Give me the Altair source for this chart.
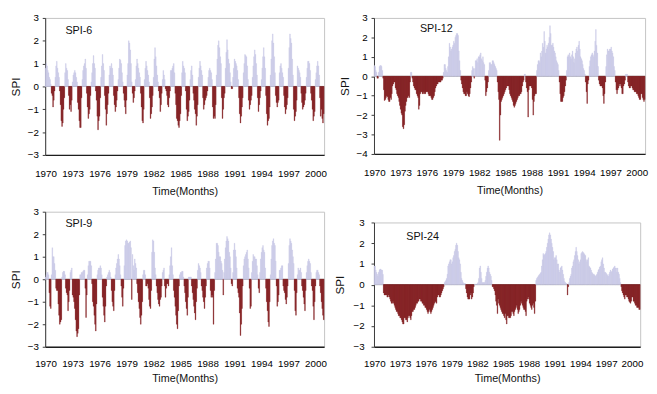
import altair as alt
import pandas as pd

FONT = "Liberation Sans"
POS_COLOR = "#c8c8e6"
NEG_COLOR = "#7b1113"

# tick positions (month index, centred in the month) and their year labels
TICK_POS = [0.5 + 36 * k for k in range(11)]   # 1970, 1973, ..., 2000

# Monthly SPI values, Jan 1970 .. Dec 2000 (12 per row)
SPI6 = [
    0.8, 1.0, 0.9, 0.7, 0.6, 0.4, 0.3, 0.1, -0.3, -0.4, -0.9, -0.6,
    -0.2, 0.4, 0.9, 1.1, 0.8, 0.6, 0.4, -0.2, -0.8, -1.5, -1.75, -1.6,
    -1.0, -0.5, 0.6, 1.0, 0.8, 0.7, 0.3, -0.4, -1.0, -0.8, -1.1, -0.6,
    0.2, 0.5, 0.6, 0.7, 0.6, 0.4, 0.2, -0.7, -1.0, -1.5, -1.8, -1.8,
    -0.5, 0.3, 0.7, 0.9, 1.0, 1.2, 0.8, -0.3, -0.9, -1.4, -1.2, -1.0,
    -0.4, 0.2, 0.6, 1.0, 1.35, 1.0, 0.8, -0.2, -0.6, -1.3, -1.9, -1.5,
    -1.3, -0.5, 0.4, 0.9, 1.4, 1.0, 0.7, -0.4, -1.0, -1.7, -1.2, -0.8,
    -0.3, 0.5, 0.9, 0.8, 1.0, 0.8, 0.5, -0.4, -0.8, -1.1, -0.9, -0.6,
    -0.2, 0.3, 0.8, 1.2, 1.15, 1.0, 0.6, 0.2, -0.3, -0.6, -0.9, -1.2,
    -0.6, 0.5, 1.0, 2.0, 1.9, 1.6, 1.0, 0.2, -0.3, -0.7, -0.5, -0.2,
    0.3, 0.9, 1.2, 1.0, 0.8, 0.6, 0.4, -0.3, -0.9, -1.5, -1.6, -1.0,
    0.3, 0.8, 1.1, 0.9, 0.7, 0.5, 0.2, -0.5, -1.4, -1.2, -0.9, -0.4,
    0.4, 1.2, 1.7, 1.3, 0.9, 0.5, 0.2, -0.2, -0.5, -1.1, -0.8, -0.3,
    0.3, 0.7, 0.5, 0.3, -0.1, -0.2, -0.4, -0.8, -0.9, -0.5, -0.2, 0.7,
    0.7, 0.8, 0.9, 1.0, 0.6, -0.3, -0.8, -1.4, -1.5, -1.7, -1.8, -1.5,
    -1.2, -0.4, 0.6, 1.1, 0.9, 0.8, 0.6, -0.2, -1.0, -1.5, -1.3, -1.1,
    -0.6, 0.3, 0.7, 0.9, 0.5, -0.3, -0.6, -1.0, -1.2, -1.7, -1.3, -0.8,
    0.4, 0.8, 1.1, 0.9, 0.7, 0.5, -0.5, -1.0, -0.8, -0.6, -0.5, -0.4,
    -0.2, 0.4, 0.7, 0.8, 0.7, 0.6, 0.3, -0.9, -1.4, -1.3, -1.4, -0.8,
    0.5, 1.2, 1.8, 2.0, 1.7, 1.3, 1.0, -0.5, -1.4, -1.0, -0.5, -0.3,
    0.8, 1.5, 2.05, 1.6, 1.2, 1.0, 0.6, 0.2, -0.1, -0.1, 0.4, 0.8,
    1.2, 1.1, 1.0, 0.9, 0.7, 0.3, -0.5, -1.2, -1.6, -1.3, -0.9, -0.5,
    0.6, 1.0, 1.4, 1.35, 1.3, 0.9, 0.3, -0.6, -1.0, -0.8, -0.6, -0.4,
    0.4, 0.9, 1.3, 1.6, 1.4, 1.0, 0.5, -0.5, -1.1, -0.8, -0.5, -0.2,
    0.3, 0.8, 1.3, 1.7, 1.3, 0.8, -0.4, -1.2, -1.7, -1.5, -1.4, -0.9,
    0.5, 1.2, 2.0, 2.3, 1.9, 1.3, 0.6, -0.4, -0.7, -0.9, -0.7, -0.6,
    0.6, 0.9, 1.0, 0.8, 0.6, 0.4, -0.4, -0.9, -1.2, -1.0, -0.8, -0.5,
    0.8, 1.7, 2.3, 2.1, 1.9, 1.2, 0.5, -1.0, -1.5, -1.3, -1.1, -0.6,
    0.9, 0.8, 0.7, 0.6, 0.4, -0.3, -0.7, -1.0, -0.9, -0.8, -0.6, -0.3,
    0.4, 0.8, 1.1, 1.1, 1.0, 0.7, -0.3, -0.6, -1.0, -1.5, -1.3, -1.1,
    0.3, 0.6, 0.9, 1.1, 0.9, 0.5, -0.5, -1.3, -1.0, -1.4, -1.6, -1.2,
]

SPI12 = [
    0.55, 0.5, 0.3, 0.2, -0.1, -0.1, 0.2, 0.5, 0.55, 0.55, 0.5, 0.3,
    -0.1, -0.7, -1.25, -1.2, -1.1, -1.0, -1.05, -1.2, -1.3, -1.3, -1.1, -1.2,
    -0.9, -0.5, -0.4, -0.3, -0.3, -0.6, -0.7, -0.9, -1.0, -1.1, -1.3, -1.5,
    -1.7, -1.9, -2.0, -2.6, -2.7, -2.5, -1.8, -1.5, -1.3, -1.1, -1.1, -1.0,
    -1.1, -0.3, 0.2, 0.2, -0.1, -0.3, -0.5, -0.6, -0.7, -0.7, -0.9, -1.0,
    -1.1, -1.7, -1.5, -0.9, -0.8, -0.8, -0.9, -0.9, -0.8, -0.9, -0.9, -0.8,
    -0.8, -0.8, -0.9, -1.0, -1.0, -1.0, -1.1, -1.2, -1.2, -1.1, -1.0, -0.8,
    -0.6, -0.5, -0.4, -0.4, -0.3, -0.3, -0.3, -0.3, -0.2, -0.2, -0.1, 0.2,
    0.6, 0.6, 0.4, 0.3, 0.2, 0.5, 1.0, 1.7, 1.5, 1.3, 1.4, 1.5,
    1.6, 1.8, 1.7, 2.0, 2.1, 2.2, 2.2, 2.1, 1.3, 0.8, 0.3, -0.2,
    -0.4, -0.6, -0.8, -0.9, -0.9, -1.0, -1.0, -0.8, -0.9, -1.0, -1.05, -0.9,
    -0.6, -0.3, 0.3, 0.5, 0.4, -0.1, 0.4, 0.8, 0.8, 0.9, 0.7, 1.0,
    1.0, 1.1, 1.2, 0.9, 0.8, 1.0, 0.7, 0.6, -0.2, -1.0, -0.8, -0.6,
    -0.3, 0.3, 0.7, 0.7, 0.6, 0.6, 0.8, 0.8, 0.7, 0.6, 0.5, 0.4,
    0.3, -0.3, -0.8, -1.2, -3.3, -2.0, -1.3, -1.2, -1.1, -1.0, -0.9, -0.8,
    -0.7, -0.6, -0.5, -0.5, -0.5, -0.7, -0.9, -1.0, -1.1, -1.2, -1.3, -1.5,
    -1.6, -1.5, -1.4, -1.3, -1.2, -1.1, -1.0, -1.0, -0.9, -0.9, -0.8, -0.5,
    -0.3, -0.2, 0.1, 0.1, -0.3, -0.6, -0.8, -2.1, -0.7, -0.5, -0.5, -0.5,
    -0.6, -1.2, -2.0, -1.3, -1.0, -0.9, -0.9, 0.3, 0.6, 0.8, 0.8, 0.7,
    1.2, 1.0, 1.3, 1.7, 1.5, 2.3, 1.8, 1.2, 1.4, 1.6, 1.5, 1.7,
    2.0, 2.6, 2.2, 1.6, 1.6, 1.7, 1.5, 1.3, 1.2, 1.0, 0.8, 0.7,
    0.6, 0.3, -0.3, -0.9, -1.3, -1.3, -1.3, -1.1, -1.0, -0.8, -0.5, -0.2,
    0.3, 1.0, 1.1, 1.0, 1.2, 1.0, 0.9, 1.1, 1.3, 1.0, 0.7, 0.9,
    1.2, 1.4, 1.5, 1.3, 1.6, 1.8, 1.4, 1.0, 0.9, 0.8, 0.6, 0.4,
    0.3, 0.1, -0.3, -0.8, -1.4, -0.4, -0.2, 0.5, 0.8, 1.0, 1.1, 1.2,
    1.1, 1.0, 1.3, 1.8, 2.4, 1.6, 1.2, 0.5, -0.2, -0.4, -0.5, -0.5,
    -0.5, -0.6, -1.0, -1.4, -0.9, -0.3, 0.5, 1.1, 1.4, 1.3, 1.3, 1.4,
    1.4, 1.5, 1.3, 1.2, 1.0, 0.5, 0.3, -0.3, -0.7, -0.9, -0.7, -0.6,
    -0.4, -0.5, -0.4, -0.6, -0.9, -0.9, -0.5, -0.4, -0.2, 0.1, 0.1, 0.1,
    -0.3, -0.5, -0.6, -0.6, -0.5, -0.5, -0.6, -0.7, -0.7, -0.8, -0.8, -0.8,
    -0.9, -0.9, -1.0, -1.1, -1.2, -1.2, -0.9, -0.9, -1.1, -1.2, -1.3, -1.2,
]

SPI9 = [
    0.1, 0.2, 0.3, 0.3, 0.2, -0.6, -1.2, -1.3, 0.2, 1.4, 1.0, 1.0,
    0.7, 0.4, -0.4, -0.5, -0.5, -1.1, -1.6, -2.0, -1.9, -1.8, 0.1, 0.3,
    0.35, 0.35, 0.2, -0.4, -0.6, -0.7, -1.4, -1.0, -0.5, 0.3, 0.4, 0.5,
    -0.7, -0.8, -1.0, -1.3, -1.8, -2.3, -2.55, -2.4, -2.2, -0.7, 0.2, 0.2,
    0.3, 0.3, 0.35, 0.4, 0.4, -0.4, -1.7, -0.7, 0.2, 0.6, 0.8, 0.8,
    0.8, 0.6, -0.2, -1.0, -1.2, -1.6, -2.0, -2.3, -1.1, 0.2, 0.4, 0.5,
    0.5, 0.6, 0.5, 0.2, -0.8, -1.2, -1.6, -1.9, -1.2, -0.3, 0.1, 0.2,
    0.3, 0.4, 0.3, 0.1, -0.5, -1.0, -1.2, -1.4, -0.5, 0.2, 0.5, 0.7,
    0.9, 1.1, 0.9, 0.6, 0.2, -0.3, -0.8, -1.2, -0.4, 0.6, 1.5, 1.7,
    1.75, 1.7, 1.6, 1.6, 1.65, 1.7, 1.4, -0.9, 1.1, 0.6, 0.4, 0.9,
    0.7, 0.5, -0.2, -0.6, -1.0, -1.3, -1.7, -2.0, -1.6, -1.0, 0.2, 0.4,
    0.4, 0.2, -0.3, -0.3, -0.2, -0.4, -0.9, -1.2, -1.3, -0.5, 1.2, 1.75,
    1.7, 1.2, 0.5, 0.2, -0.3, -0.6, -0.9, -1.1, -1.2, -0.9, -0.8, -0.3,
    0.3, 0.4, 0.5, -0.3, -0.8, -0.4, -0.2, -0.2, -0.3, 0.2, 0.6, 1.0,
    1.4, 0.6, 0.2, -0.5, -0.8, -1.2, -1.6, -2.0, -2.2, -1.4, -0.3, 0.2,
    0.3, 0.3, 0.35, 0.35, 0.1, -0.3, -0.6, -1.0, -1.3, -1.6, -0.8, 0.1,
    0.1, 0.1, 0.1, -0.3, -0.6, -0.9, -1.2, -1.5, -1.8, -1.0, -0.4, 0.4,
    0.7, 0.6, 0.5, 0.3, -0.3, -0.5, -0.8, -1.0, -1.3, -0.8, -0.3, 0.5,
    0.7, 0.8, 0.8, 0.5, -0.5, -0.8, -0.7, -0.8, -2.0, -0.5, 0.3, 0.9,
    1.6, 1.6, 1.5, 1.2, 1.0, 1.0, 0.8, 0.7, 0.4, -0.7, 0.3, 0.9,
    1.4, 1.7, 1.9, 1.8, 1.7, 1.2, 1.0, 0.5, -0.2, -0.3, 0.3, 1.3,
    1.6, 1.3, 1.0, 0.5, -0.4, -0.6, -0.8, -1.5, -2.5, -2.0, -1.3, -0.3,
    0.6, 0.9, 1.0, 1.1, 1.2, 1.3, 0.9, 0.5, -0.4, -1.3, -1.2, 0.3,
    0.8, 1.1, 1.0, 1.0, 0.9, 0.9, 0.6, 0.2, -0.4, -0.6, 0.3, 0.9,
    1.2, 1.4, 1.5, 1.3, 1.2, 0.5, -0.4, -1.0, -1.4, -1.9, -2.1, -1.0,
    0.2, 0.9, 1.5, 1.7, 1.8, 1.6, 1.5, 0.8, -0.3, -1.2, -1.0, -0.7,
    0.4, 0.4, 0.5, 0.6, 0.6, -0.3, -0.5, -0.6, -0.9, -1.1, -0.8, -0.3,
    0.7, 1.5, 1.8, 1.7, 1.6, 1.3, 1.0, 0.7, -0.5, -1.4, -1.6, -0.6,
    0.2, 0.5, 0.4, 0.4, 0.5, 0.3, -0.3, -0.5, -0.8, -1.1, -1.4, -0.5,
    0.3, 0.6, 0.8, 0.9, 0.8, 0.7, 0.3, -0.3, -0.5, -1.2, -1.8, -1.0,
    -0.3, 0.3, 0.4, 0.4, 0.3, 0.2, -0.3, -0.6, -1.0, -1.3, -1.6, -1.8,
]

SPI24 = [
    0.9, 0.9, 0.7, 0.6, 0.5, 0.4, 0.6, 0.7, 0.75, 0.75, 0.7, 0.7,
    0.5, -0.4, -0.5, -0.5, -0.5, -0.5, -0.6, -0.6, -0.5, -0.6, -0.7, -0.8,
    -0.9, -0.9, -0.8, -0.9, -1.0, -1.1, -1.2, -1.3, -1.3, -1.4, -1.5, -1.5,
    -1.6, -1.6, -1.7, -1.8, -1.9, -1.9, -1.6, -1.6, -1.7, -1.7, -1.8, -1.6,
    -1.5, -1.5, -1.6, -1.7, -1.5, -1.3, -1.3, -1.2, -1.2, -1.1, -1.0, -0.9,
    -0.9, -0.8, -0.8, -0.7, -0.7, -0.8, -0.8, -0.9, -0.9, -1.0, -1.0, -1.1,
    -1.1, -1.2, -1.3, -1.4, -1.3, -1.2, -1.3, -1.4, -1.3, -1.2, -1.1, -1.0,
    -0.9, -0.8, -0.85, -0.9, -0.6, -0.5, -0.5, -0.6, -0.6, -0.5, -0.4, -0.3,
    -0.2, -0.1, 0.1, 0.15, 0.2, 0.3, 0.5, 0.9, 1.0, 1.1, 1.2, 1.2,
    1.0, 1.1, 1.3, 1.4, 1.6, 1.7, 1.9, 2.0, 1.9, 1.6, 1.3, 1.2,
    1.0, 0.6, 0.3, 0.2, 0.1, 0.05, 0.05, 0.05, -0.2, -0.4, -0.6, -0.7,
    -0.7, -0.7, -0.5, -0.4, -0.7, -0.6, -0.4, -0.1, 0.02, 0.02, 0.02, 0.02,
    0.05, 0.1, 0.3, 0.8, 0.9, 0.6, 0.3, 0.1, 0.1, 0.1, 0.1, 0.2,
    0.4, 0.6, 0.8, 0.9, 0.8, 0.6, 0.5, 0.4, 0.2, -0.1, -0.1, -0.2,
    -0.3, -0.5, -0.8, -1.0, -1.4, -0.7, -0.9, -1.0, -1.1, -1.2, -1.3, -1.4,
    -1.4, -1.5, -1.6, -1.4, -1.7, -1.9, -1.5, -1.5, -1.6, -1.6, -1.6, -1.5,
    -1.3, -1.3, -1.4, -1.5, -1.3, -1.2, -1.1, -1.0, -1.2, -1.4, -1.3, -1.2,
    -1.0, -0.8, -0.9, -1.0, -1.1, -1.2, -1.2, -1.3, -1.5, -0.8, -0.7, -0.6,
    -0.7, -0.9, -1.0, -1.1, -1.2, -1.0, -0.9, -1.1, -1.4, -0.8, 0.2, 0.3,
    0.35, 0.4, 0.45, 0.5, 0.55, 0.6, 0.9, 1.2, 1.5, 1.4, 1.45, 1.5,
    1.6, 1.8, 2.0, 2.2, 2.4, 2.5, 2.4, 2.2, 2.0, 1.8, 1.6, 1.2,
    1.3, 1.3, 1.4, 1.2, 1.0, 1.0, 0.7, 0.6, 0.8, 0.85, 0.9, 0.7,
    0.5, 0.3, 0.15, 0.1, 0.05, 0.05, -0.5, -0.1, 0.1, 0.3, 0.4, 0.5,
    0.8, 0.9, 1.1, 1.2, 1.4, 1.6, 1.8, 1.6, 1.4, 1.2, 1.0, 1.1,
    1.2, 1.5, 1.55, 1.6, 1.55, 1.5, 1.45, 1.4, 1.2, 1.1, 1.2, 1.3,
    0.9, 0.85, 0.8, 0.7, 0.6, 0.55, 0.5, 0.5, 0.45, 0.4, 0.45, 0.5,
    0.6, 0.7, 0.75, 0.85, 0.9, 1.1, 1.2, 1.3, 1.0, 0.8, 0.6, 0.6,
    0.55, 0.5, 0.45, 0.4, 0.5, 0.6, 0.7, 0.6, 0.65, 0.75, 0.8, 0.85,
    0.9, 0.8, 0.8, 0.6, 0.8, 0.6, 0.5, 0.3, 0.1, -0.1, -0.3, -0.4,
    -0.5, -0.6, -0.7, -0.5, -0.5, -0.6, -0.6, -0.7, -0.8, -0.85, -0.9, -0.8,
    -0.6, -0.6, -0.8, -0.8, -0.9, -1.0, -1.0, -1.1, -1.1, -1.1, -1.2, -1.2,
]


def panel(vals, label, lab_m, lab_v, ymin, w, h, lab_pad=4, title_pad=5,
          xlab_pad=14, xtitle_pad=7):
    df = pd.DataFrame({"m": list(range(len(vals))), "spi": vals})
    xs = alt.Scale(domain=[0, 372], nice=False, zero=False)
    ys = alt.Scale(domain=[ymin, 3], nice=False, zero=False)
    cs = alt.Scale(domain=["pos", "neg"], range=[POS_COLOR, NEG_COLOR])
    xaxis = alt.Axis(
        values=TICK_POS, tickCount=100,
        labelExpr="toString(1970 + floor(datum.value / 12))",
        title="Time(Months)", titleFontSize=11, titlePadding=xtitle_pad,
        grid=False, ticks=False, tickSize=0, labelPadding=xlab_pad,
        labelFlush=False, labelOverlap=False,
        domainColor="#1e1e1e", domainWidth=1.3,
    )
    yaxis = alt.Axis(
        values=list(range(ymin, 4)), tickCount=100, format="d",
        labelOverlap=False,
        title="SPI", titleFontSize=12, titlePadding=title_pad,
        grid=False, tickSize=3, labelPadding=lab_pad,
        domainColor="#3a3a3a", tickColor="#3a3a3a",
    )
    dummy = pd.DataFrame({"a": [0]})
    zero = alt.Chart(dummy).mark_rule(color="#9a9a9a", strokeWidth=1).encode(
        y=alt.datum(0, scale=ys)
    )
    bars = (
        alt.Chart(df)
        .transform_calculate(m2="datum.m + 1",
                             sign="datum.spi >= 0 ? 'pos' : 'neg'")
        .mark_bar(strokeWidth=0.3)
        .encode(
            x=alt.X("m:Q", scale=xs, axis=xaxis),
            x2="m2:Q",
            y=alt.Y("spi:Q", scale=ys, axis=yaxis, stack=None),
            y2=alt.datum(0),
            color=alt.Color("sign:N", scale=cs, legend=None),
            stroke=alt.Stroke("sign:N", scale=cs, legend=None),
        )
    )
    txt = alt.Chart(dummy).mark_text(
        align="left", baseline="middle", fontSize=11, font=FONT, color="#111111"
    ).encode(x=alt.datum(lab_m), y=alt.datum(lab_v), text=alt.value(label))
    return alt.layer(zero, bars, txt).properties(width=w, height=h)


tl = panel(SPI6, "SPI-6", 27, 2.44, -3, 285, 140)
bl = panel(SPI9, "SPI-9", 27, 2.44, -3, 285, 138, xlab_pad=12, xtitle_pad=5)
tr = panel(SPI12, "SPI-12", 63, 2.45, -4, 277, 139)
br = panel(SPI24, "SPI-24", 45, 2.3, -3, 272, 127, lab_pad=7, title_pad=7,
           xlab_pad=12, xtitle_pad=5)

left = alt.vconcat(tl, bl, spacing=9)
right = alt.vconcat(tr, br, spacing=21)

chart = (
    alt.hconcat(left, right, spacing=6)
    .properties(padding={"left": 1, "top": 0, "right": 0, "bottom": 0},
                background="white")
    .configure_view(stroke="#c4c4c4", strokeWidth=1)
    .configure_axis(
        labelFont=FONT, titleFont=FONT, labelFontSize=10,
        labelColor="#000000", titleColor="#111111", titleFontWeight="normal",
        labelOverlap=False, labelFlush=False,
    )
)

chart.save("out.html", embed_options={"renderer": "svg", "actions": False})
